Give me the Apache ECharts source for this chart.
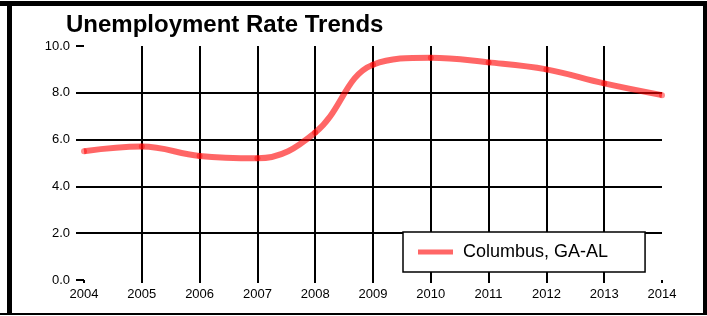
<!DOCTYPE html>
<html>
<head>
<meta charset="utf-8">
<script src="https://cdn.jsdelivr.net/npm/echarts@6/dist/echarts.min.js"></script>
<style>
  html, body { margin: 0; padding: 0; background: #fff; }
  #chart { width: 707px; height: 316px; }
</style>
</head>
<body>
<div id="chart"></div>
<script>
// 年份与失业率
var years = ["2004", "2005", "2006", "2007", "2008", "2009", "2010", "2011", "2012", "2013", "2014"];
var columbus = [5.5, 5.7, 5.3, 5.2, 6.3, 9.2, 9.5, 9.3, 9.0, 8.4, 7.9];
var seriesName = "Columbus, GA-AL";

var myChart = echarts.init(document.getElementById("chart"));
myChart.setOption({
  animation: false,
  title: {
    text: "Unemployment Rate Trends",
    left: 61,
    top: 8,
    textStyle: { fontFamily: "Arial", fontWeight: "bold", fontSize: 24, color: "#000" }
  },
  grid: { left: 84, right: 45, top: 46, bottom: 36 },
  legend: {
    data: [{ name: seriesName, icon: "rect" }],
    left: 403,
    top: 232,
    padding: [11, 37, 11, 15],
    borderColor: "#000",
    borderWidth: 1.5,
    backgroundColor: "#fff",
    itemWidth: 35,
    itemHeight: 5,
    itemStyle: { color: "#ff6666" },
    textStyle: { fontFamily: "Arial", fontSize: 18, color: "#000", padding: [0, 0, 0, 5] }
  },
  xAxis: {
    type: "category",
    data: years,
    boundaryGap: false,
    axisLine: { show: false },
    axisTick: { show: true, length: 3, lineStyle: { color: "#000", width: 2 } },
    axisLabel: { color: "#000", fontFamily: "Arial", fontSize: 13, margin: 8 },
    splitLine: {
      show: true,
      interval: function (i) { return i !== 0 && i !== years.length - 1; },
      lineStyle: { color: "#000", width: 2 }
    }
  },
  yAxis: {
    type: "value",
    min: 0,
    max: 10,
    interval: 2,
    axisLine: { show: false },
    axisTick: { show: true, length: 8, lineStyle: { color: "#000", width: 2 } },
    axisLabel: {
      color: "#000",
      fontFamily: "Arial",
      fontSize: 13,
      margin: 14,
      formatter: function (v) { return v.toFixed(1); }
    },
    splitLine: {
      show: true,
      showMinLine: false,
      showMaxLine: false,
      lineStyle: { color: "#000", width: 2 }
    }
  },
  series: [
    {
      name: seriesName,
      type: "line",
      data: columbus,
      smooth: 0.4,
      symbol: "circle",
      symbolSize: 6,
      showSymbol: true,
      lineStyle: { color: "rgba(255,0,0,0.6)", width: 6 },
      itemStyle: { color: "rgba(255,0,0,0.45)", borderWidth: 0 }
    }
  ],
  graphic: [
    { type: "rect", shape: { x: 0, y: 1, width: 707, height: 5 }, style: { fill: "#000" } },
    { type: "rect", shape: { x: 7, y: 1, width: 5, height: 314 }, style: { fill: "#000" } },
    { type: "rect", shape: { x: 703, y: 1, width: 4, height: 314 }, style: { fill: "#000" } },
    { type: "rect", shape: { x: 0, y: 313, width: 707, height: 2 }, style: { fill: "#000" } }
  ]
});
</script>
</body>
</html>
